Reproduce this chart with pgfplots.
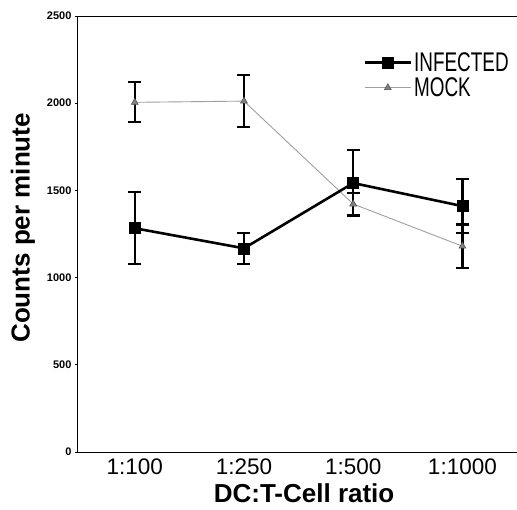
\documentclass[border=0pt]{standalone}
\usepackage{fontspec}
\setmainfont{Liberation Sans}
\newfontfamily\narrowfont[FakeStretch=0.7]{Liberation Sans}
\usepackage{pgfplots}
\pgfplotsset{compat=1.18}

\pgfplotstableread{
x y e
0 2005 115
1 2012 150
2 1422 63
3 1180 125
}\mock
\pgfplotstableread{
x y e
0 1283 207
1 1168 88
2 1542 190
3 1410 155
}\infected

\begin{document}
\begin{tikzpicture}
\begin{axis}[
  name=ax,
  scale only axis,
  width=439pt, height=436pt,
  xmin=-0.52, xmax=3.5, ymin=0, ymax=2500,
  axis x line*=bottom, axis y line*=left,
  axis line style={line width=1pt},
  xtick={0,1,2,3}, xticklabels={1:100,1:250,1:500,1:1000},
  ytick={0,500,...,2500},
  x tick style={draw=none},
  y tick style={black, line width=0.8pt},
  tick align=outside, major tick length=3pt,
  /pgf/number format/assume math mode=true,
  /pgf/number format/1000 sep={},
  yticklabel style={font=\fontsize{11}{12}\selectfont\bfseries},
  xticklabel style={font=\fontsize{22.5}{24}\selectfont, inner sep=0pt, anchor=north, yshift=-4pt},
  xlabel={DC:T-Cell ratio}, ylabel={Counts per minute},
  label style={font=\fontsize{26}{28}\selectfont\bfseries},
  xlabel style={at={(rel axis cs:0.515,0)}, anchor=north, inner sep=0pt, yshift=-31pt},
  ylabel style={at={(ticklabel cs:0.514)}, yshift=5pt},
  legend reversed,
  legend style={draw=none, fill=none, at={(0.65,0.922)}, anchor=north west,
    font=\narrowfont\fontsize{27}{28}\selectfont, row sep=1pt, inner sep=0pt,
    legend cell align=left},
  legend image code/.code={\draw[mark repeat=2,mark phase=2,#1] plot coordinates {(0pt,0pt) (23pt,0pt) (46pt,0pt)};},
]
% MOCK
\addplot[color=gray!75, line width=0.9pt, mark=triangle*, mark size=4pt,
  mark options={fill=gray, draw=gray!60!black, line width=0.5pt},
  error bars/.cd, y dir=both, y explicit,
  error bar style={line width=2.2pt, black},
  error mark options={rotate=90, mark size=6.5pt, line width=2.2pt, black}]
  table[x=x, y=y, y error=e] {\mock};
\addlegendentry{MOCK}
% INFECTED
\addplot[color=black, line width=2.6pt, mark=square*, mark size=5.5pt,
  mark options={line width=0.5pt},
  error bars/.cd, y dir=both, y explicit,
  error bar style={line width=2.2pt, black},
  error mark options={rotate=90, mark size=6.5pt, line width=2.2pt, black}]
  table[x=x, y=y, y error=e] {\infected};
\addlegendentry{INFECTED}
\draw[line width=1pt] (rel axis cs:0,1) -- (rel axis cs:1,1);
\end{axis}
\pgfresetboundingbox
\path[use as bounding box] ([shift={(-78pt,-57pt)}]ax.south west) rectangle ([shift={(0pt,16pt)}]ax.north east);
\end{tikzpicture}
\end{document}
